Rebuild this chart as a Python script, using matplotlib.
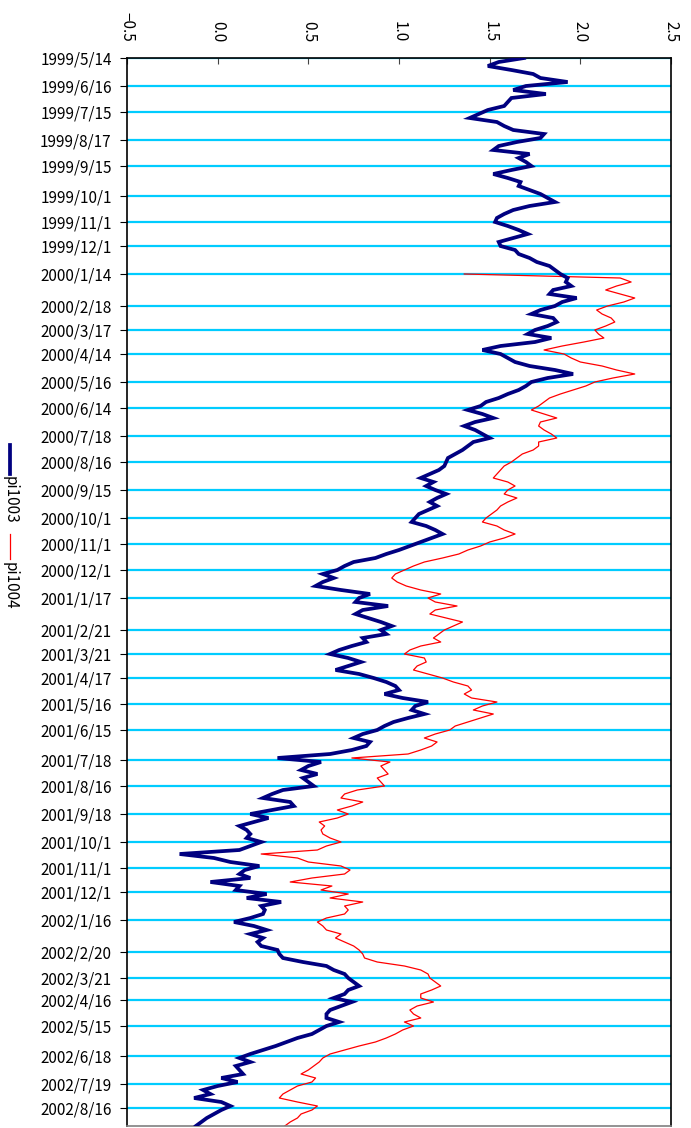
import matplotlib
matplotlib.use("Agg")
import matplotlib.pyplot as plt
from matplotlib.lines import Line2D
import numpy as np

# ── Data ──────────────────────────────────────────────────────────────────────
# category axis: one observation every two rows, rows counted from the top
tick_rows = [0, 14, 27, 41, 54, 69, 82, 94, 108, 124,
             136, 148, 162, 175, 189, 202, 216, 230, 243, 256,
             270, 286, 298, 310, 323, 336, 351, 364, 378, 392,
             405, 417, 431, 447, 460, 471, 484, 499, 513, 525]
tick_labels = ["1999/5/14", "1999/6/16", "1999/7/15", "1999/8/17", "1999/9/15",
               "1999/10/1", "1999/11/1", "1999/12/1", "2000/1/14", "2000/2/18",
               "2000/3/17", "2000/4/14", "2000/5/16", "2000/6/14", "2000/7/18",
               "2000/8/16", "2000/9/15", "2000/10/1", "2000/11/1", "2000/12/1",
               "2001/1/17", "2001/2/21", "2001/3/21", "2001/4/17", "2001/5/16",
               "2001/6/15", "2001/7/18", "2001/8/16", "2001/9/18", "2001/10/1",
               "2001/11/1", "2001/12/1", "2002/1/16", "2002/2/20", "2002/3/21",
               "2002/4/16", "2002/5/15", "2002/6/18", "2002/7/19", "2002/8/16"]

pi1003 = [
    1.69, 1.55, 1.49, 1.62, 1.74, 1.78, 1.93, 1.70, 1.63, 1.81,
    1.62, 1.60, 1.58, 1.49, 1.44, 1.39, 1.54, 1.58, 1.63, 1.80,
    1.78, 1.65, 1.55, 1.52, 1.72, 1.66, 1.70, 1.73, 1.62, 1.52,
    1.60, 1.67, 1.66, 1.72, 1.78, 1.82, 1.86, 1.72, 1.63, 1.58,
    1.54, 1.53, 1.60, 1.66, 1.71, 1.63, 1.55, 1.56, 1.64, 1.66,
    1.72, 1.76, 1.83, 1.86, 1.89, 1.93, 1.92, 1.95, 1.85, 1.83,
    1.98, 1.90, 1.86, 1.78, 1.73, 1.85, 1.87, 1.82, 1.75, 1.71,
    1.84, 1.75, 1.56, 1.46, 1.56, 1.60, 1.64, 1.72, 1.86, 1.96,
    1.82, 1.73, 1.70, 1.66, 1.60, 1.55, 1.48, 1.45, 1.38, 1.46,
    1.52, 1.42, 1.36, 1.42, 1.46, 1.50, 1.41, 1.38, 1.35, 1.31,
    1.27, 1.26, 1.25, 1.22, 1.17, 1.12, 1.19, 1.15, 1.20, 1.26,
    1.21, 1.17, 1.21, 1.16, 1.11, 1.09, 1.07, 1.15, 1.20, 1.24,
    1.18, 1.12, 1.06, 1.00, 0.93, 0.87, 0.75, 0.70, 0.66, 0.58,
    0.64, 0.58, 0.54, 0.68, 0.84, 0.78, 0.76, 0.94, 0.80, 0.76,
    0.83, 0.90, 0.96, 0.90, 0.93, 0.80, 0.82, 0.74, 0.67, 0.62,
    0.72, 0.79, 0.72, 0.65, 0.78, 0.86, 0.93, 0.98, 1.00, 0.92,
    1.02, 1.16, 1.09, 1.07, 1.14, 1.05, 0.97, 0.92, 0.88, 0.80,
    0.75, 0.84, 0.82, 0.74, 0.62, 0.33, 0.57, 0.50, 0.46, 0.55,
    0.47, 0.50, 0.53, 0.36, 0.30, 0.25, 0.40, 0.42, 0.30, 0.18,
    0.28, 0.20, 0.12, 0.16, 0.18, 0.16, 0.24, 0.18, 0.12, -0.21,
    -0.02, 0.07, 0.23, 0.15, 0.12, 0.18, -0.04, 0.12, 0.10, 0.27,
    0.16, 0.35, 0.24, 0.26, 0.25, 0.18, 0.09, 0.20, 0.27, 0.18,
    0.25, 0.22, 0.24, 0.33, 0.34, 0.36, 0.47, 0.60, 0.64, 0.70,
    0.72, 0.75, 0.78, 0.72, 0.70, 0.64, 0.74, 0.68, 0.62, 0.60,
    0.60, 0.67, 0.60, 0.56, 0.52, 0.44, 0.38, 0.32, 0.25, 0.18,
    0.12, 0.18, 0.10, 0.12, 0.14, 0.02, 0.11, 0.00, -0.08, -0.04,
    -0.13, 0.02, 0.07, 0.02, -0.02, -0.06, -0.09, -0.12,
]

PI1004_START = 108  # first row of pi1004 (2000/1/14)
pi1004 = [
    1.36, 2.22, 2.28, 2.20, 2.14, 2.22, 2.30, 2.24, 2.15, 2.09,
    2.12, 2.17, 2.19, 2.14, 2.08, 2.10, 2.13, 2.02, 1.90, 1.80,
    1.91, 1.95, 2.00, 2.12, 2.20, 2.30, 2.18, 2.08, 2.03, 1.96,
    1.89, 1.83, 1.80, 1.77, 1.73, 1.80, 1.87, 1.78, 1.77, 1.80,
    1.84, 1.87, 1.77, 1.77, 1.74, 1.68, 1.65, 1.62, 1.58, 1.56,
    1.54, 1.52, 1.60, 1.64, 1.60, 1.58, 1.65, 1.60, 1.56, 1.54,
    1.51, 1.48, 1.46, 1.54, 1.58, 1.64, 1.58, 1.50, 1.45, 1.38,
    1.33, 1.24, 1.14, 1.08, 1.03, 0.98, 0.96, 0.99, 1.04, 1.12,
    1.23, 1.16, 1.20, 1.32, 1.20, 1.17, 1.26, 1.35, 1.30, 1.25,
    1.22, 1.19, 1.23, 1.12, 1.06, 1.03, 1.14, 1.15, 1.10, 1.08,
    1.16, 1.24, 1.30, 1.38, 1.40, 1.36, 1.40, 1.54, 1.46, 1.41,
    1.52, 1.45, 1.38, 1.31, 1.28, 1.20, 1.14, 1.21, 1.18, 1.12,
    1.05, 0.74, 0.95, 0.90, 0.92, 0.94, 0.88, 0.90, 0.92, 0.77,
    0.70, 0.68, 0.80, 0.74, 0.66, 0.72, 0.66, 0.56, 0.59, 0.57,
    0.58, 0.62, 0.68, 0.60, 0.55, 0.24, 0.44, 0.50, 0.68, 0.73,
    0.70, 0.52, 0.40, 0.63, 0.57, 0.72, 0.62, 0.80, 0.70, 0.72,
    0.70, 0.60, 0.55, 0.58, 0.60, 0.68, 0.65, 0.70, 0.75, 0.78,
    0.80, 0.81, 0.88, 1.03, 1.12, 1.16, 1.17, 1.20, 1.23, 1.18,
    1.12, 1.12, 1.19, 1.10, 1.06, 1.08, 1.12, 1.03, 1.08, 1.02,
    0.98, 0.93, 0.87, 0.78, 0.70, 0.62, 0.58, 0.56, 0.53, 0.50,
    0.46, 0.54, 0.52, 0.44, 0.40, 0.36, 0.34, 0.44, 0.55, 0.52,
    0.46, 0.44, 0.40, 0.37,
]

value_ticks = [-0.5, 0.0, 0.5, 1.0, 1.5, 2.0, 2.5]

# ── Style ─────────────────────────────────────────────────────────────────────
plt.rcParams["font.family"] = ["Noto Sans CJK JP", "DejaVu Sans"]
NAVY = "#000080"
RED  = "#FF0000"
GRID = "#00CCFF"
FS   = 11

fig = plt.figure(figsize=(6.91, 11.28), dpi=100)
ax = fig.add_axes([127 / 691, 2.5 / 1128, 544 / 691, 1068 / 1128])

rows3 = np.arange(len(pi1003)) * 2
rows4 = PI1004_START + np.arange(len(pi1004)) * 2

for r in tick_rows:
    ax.axhline(r, color=GRID, lw=1.6, zorder=1)

ax.plot(pi1003, rows3, color=NAVY, lw=2.7, solid_joinstyle="miter", zorder=3)
ax.plot(pi1004, rows4, color=RED, lw=0.9, zorder=2)

ax.set_xlim(-0.5, 2.5)
ax.set_ylim(533.75, -0.25)

ax.set_xticks(value_ticks)
ax.set_xticklabels([f"{v:.1f}".replace("-", "\u2212") for v in value_ticks],
                   rotation=270, fontsize=FS)
ax.xaxis.tick_top()
ax.tick_params(axis="x", direction="in", length=4, pad=11, color="#444444")

ax.set_yticks(tick_rows)
ax.set_yticklabels(tick_labels, fontsize=FS)
ax.tick_params(axis="y", direction="out", length=5, pad=6, color="black")

for side in ["top", "left", "right"]:
    ax.spines[side].set_color("black")
    ax.spines[side].set_linewidth(1.2)
ax.spines["bottom"].set_color("#808080")
ax.spines["bottom"].set_linewidth(1.2)

# ── Rotated legend on the left ────────────────────────────────────────────────
lx = 10 / 691
def fy(py):
    return 1 - py / 1128

fig.add_artist(Line2D([lx, lx], [fy(445), fy(474)], color=NAVY, lw=2.7,
                      transform=fig.transFigure))
fig.text(lx, fy(476), "pi1003", rotation=270, ha="center", va="top", fontsize=FS)
fig.add_artist(Line2D([lx, lx], [fy(534), fy(559)], color=RED, lw=0.9,
                      transform=fig.transFigure))
fig.text(lx, fy(562), "pi1004", rotation=270, ha="center", va="top", fontsize=FS)

fig.savefig("out.png", dpi=100)
